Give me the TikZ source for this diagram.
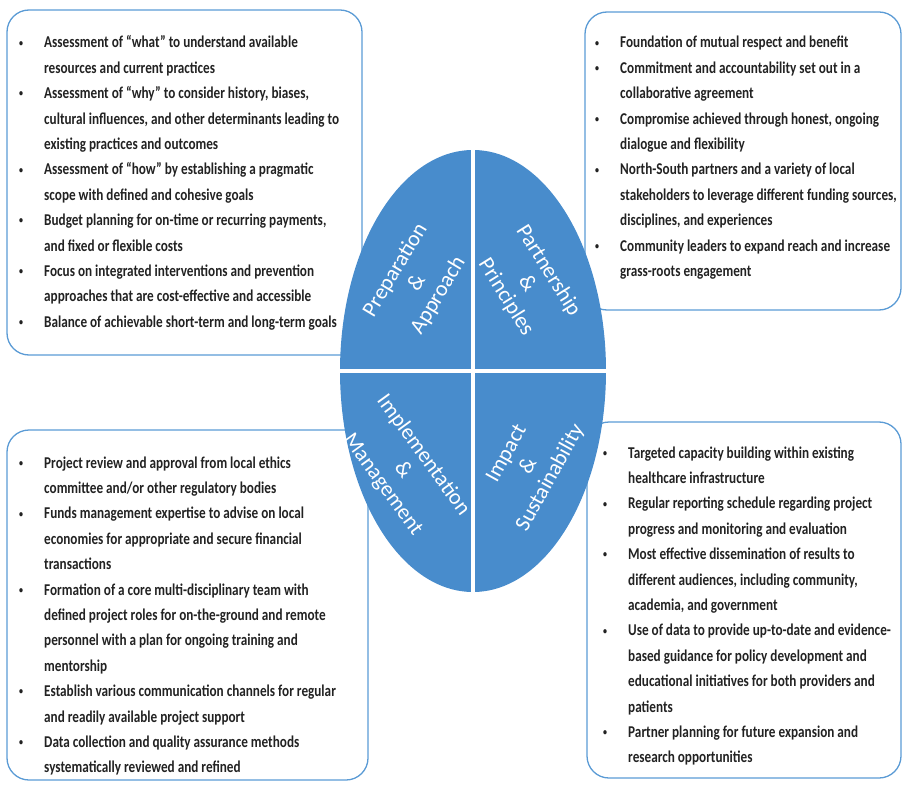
\documentclass[tikz,border=0pt]{standalone}
\usepackage{fontspec}
\setmainfont[FakeStretch=0.8]{Carlito}
\newfontfamily\petalfont{Carlito}
\definecolor{boxblue}{RGB}{91,155,213}
\definecolor{circblue}{RGB}{72,140,204}
\definecolor{txtgray}{RGB}{34,34,34}
\newcommand\itemrows[1]{\begin{tabular}[t]{@{}p{25pt}@{}l@{}}#1\end{tabular}}
\newcommand\dotmark{\raisebox{1.8pt}{\fontsize{10}{10}\selectfont\textbullet}}
\tikzset{
  infobox/.style={draw=boxblue,line width=1.3pt,rounded corners=22pt},
  bullets/.style={anchor=base west,inner sep=0pt,text=txtgray,
    font=\fontsize{16.5}{25.4}\selectfont\bfseries},
  petal/.style={text=white,align=center,font=\petalfont\fontsize{22}{25}\selectfont},
}
\begin{document}
\begin{tikzpicture}[x=1pt,y=-1pt]
  \useasboundingbox (0,0) rectangle (904,786);
  \draw[infobox] (7,10) rectangle (362,355);
  \draw[infobox] (585,12) rectangle (901,310);
  \draw[infobox] (7,430) rectangle (368,780);
  \draw[infobox] (587,422) rectangle (901,778);
  \fill[circblue] (473,371) ellipse [x radius=133pt,y radius=221pt];
  \draw[white,line width=3.5pt] (473,140) -- (473,600) (330,371) -- (616,371);
  \node[petal,rotate=59] (prep) at (417,283) {Preparation\\\&\\Approach};
  \node[petal,rotate=-58] (part) at (527,284) {Partnership\\\&\\Principles};
  \node[petal,rotate=-54] (impl) at (403,470) {Implementation\\\&\\Management};
  \node[petal,rotate=61] (impa) at (529,466) {Impact\\\&\\Sustainability};
  \node[bullets] (prepitems) at (19,48) {\itemrows{
    \dotmark & Assessment of “what” to understand available\\
    & resources and current practices\\
    \dotmark & Assessment of “why” to consider history, biases,\\
    & cultural influences, and other determinants leading to\\
    & existing practices and outcomes\\
    \dotmark & Assessment of “how” by establishing a pragmatic\\
    & scope with defined and cohesive goals\\
    \dotmark & Budget planning for on-time or recurring payments,\\
    & and fixed or flexible costs\\
    \dotmark & Focus on integrated interventions and prevention\\
    & approaches that are cost-effective and accessible\\
    \dotmark & Balance of achievable short-term and long-term goals}};
  \node[bullets] (partitems) at (595,48) {\itemrows{
    \dotmark & Foundation of mutual respect and benefit\\
    \dotmark & Commitment and accountability set out in a\\
    & collaborative agreement\\
    \dotmark & Compromise achieved through honest, ongoing\\
    & dialogue and flexibility\\
    \dotmark & North-South partners and a variety of local\\
    & stakeholders to leverage different funding sources,\\
    & disciplines, and experiences\\
    \dotmark & Community leaders to expand reach and increase\\
    & grass-roots engagement}};
  \node[bullets] (implitems) at (19,468) {\itemrows{
    \dotmark & Project review and approval from local ethics\\
    & committee and/or other regulatory bodies\\
    \dotmark & Funds management expertise to advise on local\\
    & economies for appropriate and secure financial\\
    & transactions\\
    \dotmark & Formation of a core multi-disciplinary team with\\
    & defined project roles for on-the-ground and remote\\
    & personnel with a plan for ongoing training and\\
    & mentorship\\
    \dotmark & Establish various communication channels for regular\\
    & and readily available project support\\
    \dotmark & Data collection and quality assurance methods\\
    & systematically reviewed and refined}};
  \node[bullets] (impaitems) at (603,458) {\itemrows{
    \dotmark & Targeted capacity building within existing\\
    & healthcare infrastructure\\
    \dotmark & Regular reporting schedule regarding project\\
    & progress and monitoring and evaluation\\
    \dotmark & Most effective dissemination of results to\\
    & different audiences, including community,\\
    & academia, and government\\
    \dotmark & Use of data to provide up-to-date and evidence-\\
    & based guidance for policy development and\\
    & educational initiatives for both providers and\\
    & patients\\
    \dotmark & Partner planning for future expansion and\\
    & research opportunities}};
\end{tikzpicture}
\end{document}
